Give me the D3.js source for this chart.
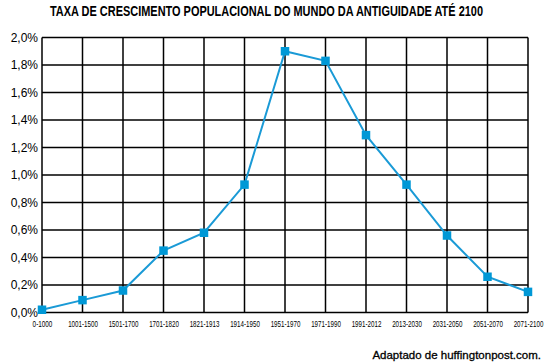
<!DOCTYPE html>
<html><head><meta charset="utf-8">
<script src="https://cdn.jsdelivr.net/npm/d3@7"></script>
<style>
html,body{margin:0;padding:0;background:#fff;}
svg{display:block;}
</style>
</head><body>
<svg id="chart" width="547" height="364"></svg>
<script>
const categories = ["0-1000","1001-1500","1501-1700","1701-1820","1821-1913","1914-1950","1951-1970","1971-1990","1991-2012","2013-2030","2031-2050","2051-2070","2071-2100"];
const values = [0.02,0.09,0.16,0.45,0.58,0.93,1.90,1.83,1.29,0.93,0.56,0.26,0.15];
const yTicks = [0,0.2,0.4,0.6,0.8,1.0,1.2,1.4,1.6,1.8,2.0];
const title = "TAXA DE CRESCIMENTO POPULACIONAL DO MUNDO DA ANTIGUIDADE ATÉ 2100";
const source = "Adaptado de huffingtonpost.com.";

(function () {
const svg = d3.select("#chart");
const pL = 42, pR = 528, pT = 37.5, pB = 312.5;
const x = d3.scalePoint().domain(categories).range([pL, pR]);
const y = d3.scaleLinear().domain([0, 2]).range([pB, pT]);
const fmt = v => v.toFixed(1).replace(".", ",") + "%";

// horizontal grid
svg.append("g").selectAll("line").data(yTicks).join("line")
  .attr("x1", pL).attr("x2", pR)
  .attr("y1", d => y(d)).attr("y2", d => y(d))
  .attr("stroke", "#000").attr("stroke-width", 1.5);
// vertical grid
svg.append("g").selectAll("line").data(categories).join("line")
  .attr("x1", d => x(d)).attr("x2", d => x(d))
  .attr("y1", pT).attr("y2", pB)
  .attr("stroke", "#000").attr("stroke-width", 1.5);

// y labels
const yAxis = d3.axisLeft(y).tickValues(yTicks).tickFormat(fmt).tickSize(0).tickPadding(4);
const ya = svg.append("g").attr("transform", `translate(${pL},0)`).call(yAxis);
ya.select(".domain").remove();
ya.selectAll("text").attr("font-family", "Liberation Sans, Arial, sans-serif").attr("font-size", 12).attr("fill", "#000");

// x labels
const xAxis = d3.axisBottom(x).tickSize(0).tickPadding(8);
const xa = svg.append("g").attr("transform", `translate(0,${pB})`).call(xAxis);
xa.select(".domain").remove();
xa.selectAll("text").attr("font-family", "Liberation Sans Narrow, Arial Narrow, sans-serif")
  .attr("font-size", 9.5).attr("fill", "#000")
  .attr("textLength", d => d.length * 3.3).attr("lengthAdjust", "spacingAndGlyphs");

// line
svg.append("path").datum(values)
  .attr("d", d3.line().x((d, i) => x(categories[i])).y(d => y(d)))
  .attr("fill", "none").attr("stroke", "#1a9ad6").attr("stroke-width", 2);
// markers
const s = 8.5;
svg.append("g").selectAll("rect").data(values).join("rect")
  .attr("x", (d, i) => x(categories[i]) - s / 2).attr("y", d => y(d) - s / 2)
  .attr("width", s).attr("height", s).attr("fill", "#0098d6");

// title
svg.append("text").attr("x", 266.5).attr("y", 16).attr("text-anchor", "middle")
  .attr("font-family", "Liberation Sans Narrow, Arial Narrow, sans-serif")
  .attr("font-size", 15).attr("font-weight", "bold").attr("fill", "#000")
  .attr("textLength", 433).attr("lengthAdjust", "spacingAndGlyphs")
  .text(title);

// source
svg.append("text").attr("x", 541).attr("y", 359).attr("text-anchor", "end")
  .attr("font-family", "Liberation Sans, Arial, sans-serif")
  .attr("font-size", 11.5).attr("fill", "#000")
  .attr("stroke", "#000").attr("stroke-width", 0.3)
  .text(source);
})();
</script>
</body></html>
